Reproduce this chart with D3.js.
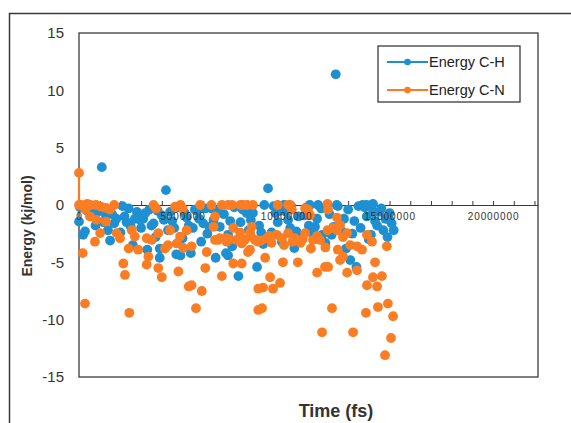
<!DOCTYPE html>
<html>
<head>
<meta charset="utf-8">
<script src="https://cdn.jsdelivr.net/npm/d3@7"></script>
<style>
  html, body { margin: 0; padding: 0; background: #fff; }
  svg { display: block; }
</style>
</head>
<body>
<svg id="chart" width="571" height="423"></svg>
<script>
// ---- Data (time in fs, energy in kJ/mol) ----
const seriesNames = ["Energy C-H", "Energy C-N"];
const seriesColors = ["#1e90d2", "#fb7d23"];

const chTime = [0,50000,290000,200000,400000,600000,800000,1000000,1100000,1200000,1400000,1500000,1600000,1800000,2000000,2100000,2200000,2400000,2500000,2600000,2800000,2950000,3000000,3100000,3200000,3300000,3400000,3600000,3700000,3900000,3900000,4000000,4100000,4200000,4300000,4500000,4700000,4800000,4900000,5000000,5100000,5200000,5400000,5500000,5600000,5700000,5900000,6000000,6100000,6200000,6400000,6500000,6600000,6800000,7000000,7100000,7200000,7400000,7500000,7700000,7800000,8000000,8100000,8200000,8400000,8600000,8700000,8900000,8950000,9130000,9300000,9400000,9500000,9600000,9800000,9900000,10000000,10200000,10250000,10400000,10600000,10800000,11000000,11100000,11150000,11300000,11500000,11550000,11700000,11750000,11900000,12000000,12100000,12300000,12400000,12450000,12500000,12700000,12900000,13000000,13100000,13300000,13400000,13500000,13600000,13700000,13800000,13900000,13900000,14100000,14200000,14200000,14400000,14500000,14600000,14700000,14800000,14900000,15000000,15100000,15200000,
  600000,900000,1300000,1700000,2300000,2700000,3500000,3800000,4400000,4600000,5300000,5800000,6300000,6700000,7300000,7900000,8300000,8800000,9700000,10100000,10500000,10900000,11400000,12200000,12800000,13200000,14000000,14300000,15000000,7200000];
const chEnergy = [-1.45,-0.2,-2.3,-2.6,-0.5,-1.0,-1.8,-0.2,3.3,-1.5,-2.2,-3.1,-0.8,-1.2,-2.4,-0.1,-1.0,-0.3,-1.9,-3.5,-0.6,-1.3,-2.0,-1.2,-0.7,-3.9,-0.4,-1.6,-2.8,-4.6,-3.8,-0.9,-1.3,1.3,-2.2,-1.4,-4.3,-0.2,-4.4,-2.9,-0.7,-1.1,-4.2,-2.0,-0.4,-0.5,-3.2,-1.6,-0.3,-2.5,-0.3,-1.3,-4.6,-1.9,-0.8,-4.2,-2.6,-3.6,-0.2,-6.2,-1.5,-3.0,-0.7,-2.2,-0.7,-5.4,-1.8,-3.4,0,1.45,-2.4,-0.1,-0.7,-1.5,-3.2,0,-0.6,-2.0,-0.1,-3.75,-1.0,-2.8,-0.2,-1.8,0,-2.5,-1.2,0,-0.3,-2.6,-3.3,0,-0.8,-1.9,11.4,0,-0.1,-2.3,-3.8,-0.4,-4.8,-1.4,-5.4,-0.1,-2.0,0,-0.2,0,-1.0,-2.6,-0.6,0.1,-1.8,-0.6,-0.3,-2.2,-1.2,-2.8,-0.7,-1.6,-2.2,
  -0.3,-0.6,-0.9,-1.6,-1.5,-1.2,-1.8,-0.5,-0.6,-2.0,-1.8,-1.2,-1.9,-0.5,-1.4,-0.4,-1.3,-2.4,-0.5,-1.3,-2.3,-0.9,-1.9,-2.6,-1.2,-2.5,-3.0,-1.4,-1.3,-4.4];

const cnTime = [0,0,130000,300000,550000,820000,1060000,1300000,1500000,530000,850000,1300000,1020000,770000,1820000,1980000,2550000,2700000,3270000,3510000,3830000,4400000,4640000,4880000,5200000,5440000,5040000,4720000,180000,290000,2430000,2140000,2220000,2400000,2860000,3350000,3270000,3830000,4000000,4150000,4300000,4800000,5300000,5440000,5650000,5930000,6100000,6170000,6500000,6900000,6730000,7130000,7450000,7450000,7860000,7600000,8000000,8340000,8260000,8660000,8660000,3720000,5850000,6400000,6900000,7400000,7800000,6570000,6570000,7130000,7860000,8500000,9070000,9550000,10100000,10430000,10920000,11300000,11640000,8160000,10100000,10280000,10920000,11160000,7930000,8120000,11060000,12030000,12460000,12610000,12460000,7780000,8260000,8650000,8990000,9850000,10570000,9230000,8890000,9370000,9710000,8840000,11500000,11880000,12030000,12610000,12750000,12950000,13430000,12220000,11740000,13240000,13910000,14200000,14400000,14630000,14300000,14870000,14150000,13910000,14440000,14920000,15170000,13860000,15070000,14780000,13430000,13670000,13100000,12000000,12270000,12750000,12950000,9300000,9900000,10700000,11900000,12500000,
  400000,1700000,3600000,4900000,5000000,7200000,8400000,9600000,10200000,12000000,6800000,7300000,8300000,8800000,9200000,9800000,10300000,10800000,11500000,11200000];
const cnEnergy = [2.8,0,0,-0.4,0,0,-0.15,-0.25,-0.4,-1.0,-1.3,-1.45,-2.45,-3.2,-2.45,-2.9,-2.2,-2.75,-2.9,-3.05,-2.45,-2.2,-0.15,-2.75,-2.2,-3.6,-3.75,-3.35,-4.2,-8.6,-9.4,-5.1,-6.1,-3.8,-3.9,-4.5,-5.2,-5.5,-6.3,-3.8,-3.5,-5.8,-7.1,-7.0,-9.0,-7.5,-5.5,-4.1,-1.9,-6.2,-3.05,-2.9,-2.0,-5.1,-5.1,-3.05,-3.05,-1.9,-3.9,-9.15,-7.3,-0.3,0,0,0,0,0,-1.0,-3.05,-3.2,-3.35,-3.05,-2.9,-2.6,-2.45,-2.9,-2.45,-3.05,-3.05,-4.1,0,-0.4,-0.3,-0.9,0,0,-0.4,-0.4,-1.1,-1.75,-2.2,-2.4,-2.4,-3.2,-4.6,-5.0,-5.0,-6.3,-7.2,-7.3,-6.8,-9.0,-5.9,-5.4,-5.4,-4.8,-4.5,-5.9,-5.7,-9.0,-11.1,-11.1,-7.0,-6.3,-7.1,-6.2,-5.0,-3.6,-3.2,-2.6,-8.9,-8.6,-9.7,-9.4,-11.6,-13.1,-3.6,-3.9,-3.5,-2.2,-2.0,-2.8,-2.45,-3.3,-3.5,-3.3,-3.7,-3.9,
  0.1,0,0,0,-0.3,0,0,0,0,0.1,-2.9,-3.0,-2.7,-3.1,-2.7,-2.9,-3.2,-3.0,-2.7,-3.8];

const xTickValues = [0,1000000,2000000,3000000,4000000,5000000,6000000,7000000,8000000,9000000,10000000,11000000,12000000,13000000,14000000,15000000,16000000,17000000,18000000,19000000,20000000,21000000,22000000];
const xLabelValues = [0,5000000,10000000,15000000,20000000];
const yTickValues = [-15,-10,-5,0,5,10,15];
const xDomain = [0, 22170000];
const yDomain = [-15, 15];
const xTitle = "Time (fs)";
const yTitle = "Energy (kj/mol)";

// ---- Layout ----
const plot = { left: 79, top: 33, right: 538, bottom: 377 };
const svg = d3.select("#chart");

const x = d3.scaleLinear().domain(xDomain).range([plot.left, plot.right]);
const y = d3.scaleLinear().domain(yDomain).range([plot.bottom, plot.top]);

// outer chart frame (only top and left visible)
svg.append("path")
  .attr("d", "M9.5,423 L9.5,13.5 L571,13.5")
  .attr("fill", "none").attr("stroke", "#3a3a3a").attr("stroke-width", 1.5);

// plot area border
svg.append("rect")
  .attr("x", plot.left).attr("y", plot.top)
  .attr("width", plot.right - plot.left).attr("height", plot.bottom - plot.top)
  .attr("fill", "none").attr("stroke", "#3a3a3a").attr("stroke-width", 1.3);

// Y axis labels
const yAxis = d3.axisLeft(y).tickValues(yTickValues).tickSize(0).tickPadding(15)
  .tickFormat(d => String(d));
const gy = svg.append("g").attr("transform", `translate(${plot.left},0)`).call(yAxis);
gy.select(".domain").remove();
gy.selectAll("text")
  .attr("font-family", "'Liberation Sans', Arial, sans-serif")
  .attr("font-size", 15).attr("fill", "#333");

// X axis line + ticks (upwards) at y = 0
const xAxisLine = d3.axisBottom(x).tickValues(xTickValues).tickSizeInner(-4).tickSizeOuter(0).tickFormat("");
const gx = svg.append("g").attr("transform", `translate(0,${y(0)})`).call(xAxisLine);
gx.select(".domain").attr("stroke", "#3a3a3a").attr("stroke-width", 1.2);
gx.selectAll(".tick line").attr("stroke", "#3a3a3a");

// Series
const chData = chTime.map((t, i) => ({ t, e: chEnergy[i] }));
const cnData = cnTime.map((t, i) => ({ t, e: cnEnergy[i] }));

const line = d3.line().x(d => x(d.t)).y(d => y(d.e));
// visible connecting segment at the start of C-N series
svg.append("path").datum(cnData.slice(0, 3))
  .attr("d", line).attr("fill", "none")
  .attr("stroke", seriesColors[1]).attr("stroke-width", 2.2);

const R = 4.9;
svg.append("g").selectAll("circle").data(chData).join("circle")
  .attr("cx", d => x(d.t)).attr("cy", d => y(d.e)).attr("r", R)
  .attr("fill", seriesColors[0]);

svg.append("g").selectAll("circle").data(cnData).join("circle")
  .attr("cx", d => x(d.t)).attr("cy", d => y(d.e)).attr("r", R)
  .attr("fill", seriesColors[1]);

// X axis labels on top of markers
const xAxisLabels = d3.axisBottom(x).tickValues(xLabelValues).tickSize(0).tickPadding(8)
  .tickFormat(d3.format("d"));
const gxl = svg.append("g").attr("transform", `translate(0,${y(0)})`).call(xAxisLabels);
gxl.select(".domain").remove();
gxl.selectAll("text")
  .attr("font-family", "'Liberation Sans', Arial, sans-serif")
  .attr("font-size", 10).attr("letter-spacing", 0.9).attr("fill", "#333");

// Axis titles
svg.append("text")
  .attr("x", 336).attr("y", 417).attr("text-anchor", "middle")
  .attr("font-family", "'Liberation Sans', Arial, sans-serif")
  .attr("font-size", 18).attr("font-weight", "bold").attr("fill", "#333")
  .text(xTitle);

svg.append("text")
  .attr("transform", "translate(32,226) rotate(-90)").attr("text-anchor", "middle")
  .attr("font-family", "'Liberation Sans', Arial, sans-serif")
  .attr("font-size", 14).attr("font-weight", "bold").attr("fill", "#333")
  .text(yTitle);

// Legend
const legend = svg.append("g");
legend.append("rect")
  .attr("x", 378).attr("y", 46).attr("width", 142).attr("height", 56)
  .attr("fill", "#fff").attr("stroke", "#3a3a3a").attr("stroke-width", 1.3);
seriesNames.forEach((name, i) => {
  const ly = 62 + i * 28;
  legend.append("line").attr("x1", 387).attr("x2", 428).attr("y1", ly).attr("y2", ly)
    .attr("stroke", seriesColors[i]).attr("stroke-width", 2.2);
  legend.append("circle").attr("cx", 407.5).attr("cy", ly).attr("r", 3.3)
    .attr("fill", seriesColors[i]);
  legend.append("text").attr("x", 429).attr("y", ly + 5)
    .attr("font-family", "'Liberation Sans', Arial, sans-serif")
    .attr("font-size", 14.5).attr("fill", "#222")
    .text(name);
});
</script>
</body>
</html>
